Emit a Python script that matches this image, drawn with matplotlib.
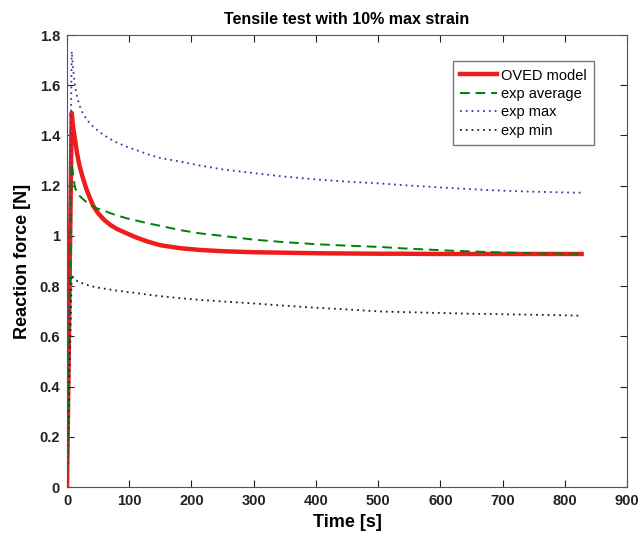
import matplotlib.pyplot as plt

plt.rcParams['font.family'] = ['Liberation Sans', 'DejaVu Sans']

# time samples [s]
time = [0, 7.5, 10, 13, 16, 20, 25, 30, 36, 42, 50, 60, 70, 80, 96, 110, 130,
        150, 182, 214, 250, 300, 350, 400, 450, 503, 535, 600, 650, 700, 750,
        800, 827]

oved_model = [0, 1.49, 1.43, 1.38, 1.33, 1.28, 1.235, 1.195, 1.155, 1.12,
              1.09, 1.063, 1.043, 1.028, 1.01, 0.995, 0.977, 0.963, 0.951,
              0.944, 0.939, 0.935, 0.933, 0.931, 0.930, 0.929, 0.929, 0.928,
              0.928, 0.928, 0.928, 0.928, 0.928]
exp_average = [0, 1.29, 1.24, 1.19, 1.175, 1.16, 1.148, 1.137, 1.126, 1.116,
               1.108, 1.10, 1.09, 1.082, 1.07, 1.062, 1.05, 1.04, 1.023, 1.01,
               1.0, 0.985, 0.975, 0.967, 0.961, 0.956, 0.951, 0.943, 0.938,
               0.934, 0.931, 0.929, 0.928]
exp_max = [0, 1.735, 1.66, 1.595, 1.555, 1.52, 1.49, 1.47, 1.45, 1.435,
           1.418, 1.40, 1.385, 1.372, 1.355, 1.343, 1.325, 1.31, 1.296, 1.28,
           1.265, 1.25, 1.236, 1.225, 1.216, 1.209, 1.203, 1.193, 1.186,
           1.18, 1.176, 1.173, 1.172]
exp_min = [0, 0.845, 0.835, 0.826, 0.821, 0.816, 0.811, 0.806, 0.802, 0.798,
           0.794, 0.79, 0.786, 0.782, 0.777, 0.773, 0.766, 0.76, 0.752,
           0.745, 0.739, 0.731, 0.722, 0.714, 0.707, 0.699, 0.697, 0.693,
           0.690, 0.688, 0.686, 0.684, 0.682]

fig = plt.figure(figsize=(6.39, 5.37), dpi=100)
ax = fig.add_axes([0.1049, 0.0931, 0.8764, 0.8417])

ax.plot(time, oved_model, color="#ee1c1c", lw=3.2, label="OVED model")
ax.plot(time, exp_average, color="#008000", lw=1.4, ls=(0, (5, 3)), label="exp average")
ax.plot(time, exp_max, color="#3a3aa8", lw=1.3, ls=(0, (1, 2.2)), label="exp max")
ax.plot(time, exp_min, color="#222222", lw=1.3, ls=(0, (1, 2.2)), label="exp min")

ax.set_xlim(0, 900)
ax.set_ylim(0, 1.8)
ax.set_xticks(range(0, 901, 100))
ax.set_yticks([0, 0.2, 0.4, 0.6, 0.8, 1, 1.2, 1.4, 1.6, 1.8])
ax.set_yticklabels(["0", "0.2", "0.4", "0.6", "0.8", "1", "1.2", "1.4", "1.6", "1.8"])
ax.tick_params(direction="in", top=True, right=True, length=5, labelsize=10.5,
               colors="#222222", pad=5)
for lab in ax.get_xticklabels() + ax.get_yticklabels():
    lab.set_fontweight("bold")
for sp in ax.spines.values():
    sp.set_color("#555555")

ax.set_xlabel("Time [s]", fontsize=13, fontweight="bold", labelpad=4)
ax.set_ylabel("Reaction force [N]", fontsize=13, fontweight="bold", labelpad=6)
ax.set_title("Tensile test with 10% max strain", fontsize=11.5, fontweight="bold", pad=8)

leg = ax.legend(loc="upper right", bbox_to_anchor=(0.941, 0.942), fontsize=10.5,
                frameon=True, fancybox=False, edgecolor="#555555", borderaxespad=0,
                handlelength=2.5, handletextpad=0.3, borderpad=0.5, labelspacing=0.3)
leg.get_frame().set_linewidth(1.0)

fig.savefig("out.png", dpi=100)
